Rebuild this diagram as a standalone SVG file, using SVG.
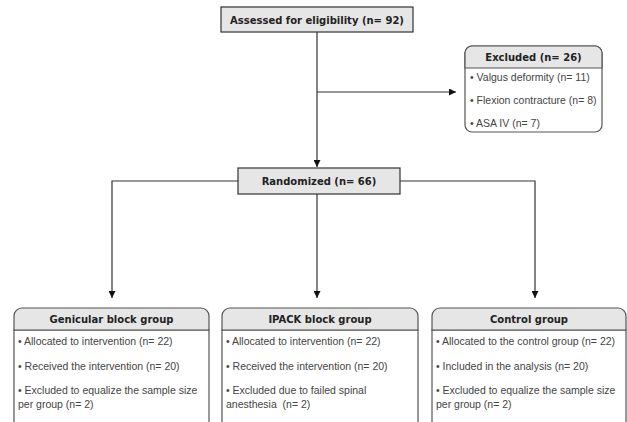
<svg xmlns="http://www.w3.org/2000/svg" width="627" height="422" viewBox="0 0 627 422">
<defs>
<style>
.box{fill:#e6e6e6;stroke:#333;stroke-width:1.2}
.hdr{fill:#e6e6e6;stroke:#555;stroke-width:1.2}
.body{fill:#fff;stroke:#555;stroke-width:1.2}
.t{font-family:"DejaVu Sans",Verdana,sans-serif;font-weight:bold;font-size:10px;fill:#222;text-anchor:middle}
.i{font-family:"Liberation Sans",Arial,sans-serif;font-size:10.5px;fill:#444;white-space:pre}
.c{fill:none;stroke:#333;stroke-width:1.2}
</style>
<marker id="ah" viewBox="0 0 10 10" refX="10" refY="5" markerWidth="7" markerHeight="7" markerUnits="userSpaceOnUse" orient="auto">
<path d="M0,0 L10,5 L0,10 Z" fill="#111"/>
</marker>
</defs>
<rect width="627" height="422" fill="#fff"/>
<g id="connectors">
<path class="c" d="M317,32 V167" marker-end="url(#ah)"/>
<path class="c" d="M317,92 H456" marker-end="url(#ah)"/>
<path class="c" d="M238,181 H112 V298" marker-end="url(#ah)"/>
<path class="c" d="M400,181 H535 V298" marker-end="url(#ah)"/>
<path class="c" d="M317,194 V298" marker-end="url(#ah)"/>
</g>
<g id="assessed">
<rect class="box" x="221" y="7" width="192" height="25"/>
<text class="t" x="317" y="23.5">Assessed for eligibility (n= 92)</text>
</g>
<g id="excluded">
<rect class="body" x="465" y="46" width="137" height="86" rx="7"/>
<path class="hdr" d="M465,68 V53 A7,7 0 0 1 472,46 H595 A7,7 0 0 1 602,53 V68 Z"/>
<text class="t" x="533.5" y="61">Excluded (n= 26)</text>
<text class="i" x="470" y="81">• Valgus deformity (n= 11)</text>
<text class="i" x="470" y="104">• Flexion contracture (n= 8)</text>
<text class="i" x="470" y="127">• ASA IV (n= 7)</text>
</g>
<g id="randomized">
<rect class="box" x="238" y="168" width="162" height="26"/>
<text class="t" x="319" y="185">Randomized (n= 66)</text>
</g>
<g id="genicular">
<rect class="body" x="14" y="330" width="195" height="110"/>
<path class="hdr" d="M14,330 V316 A8,8 0 0 1 22,308 H201 A8,8 0 0 1 209,316 V330 Z"/>
<text class="t" x="111.5" y="323">Genicular block group</text>
<text class="i" x="18" y="345">• Allocated to intervention (n= 22)</text>
<text class="i" x="18" y="370">• Received the intervention (n= 20)</text>
<text class="i" x="18" y="394">• Excluded to equalize the sample size</text>
<text class="i" x="18" y="408">per group (n= 2)</text>
</g>
<g id="ipack">
<rect class="body" x="222" y="330" width="196" height="110"/>
<path class="hdr" d="M222,330 V316 A8,8 0 0 1 230,308 H410 A8,8 0 0 1 418,316 V330 Z"/>
<text class="t" x="320" y="323">IPACK block group</text>
<text class="i" x="226" y="345">• Allocated to intervention (n= 22)</text>
<text class="i" x="226" y="370">• Received the intervention (n= 20)</text>
<text class="i" x="226" y="394">• Excluded due to failed spinal</text>
<text class="i" x="226" y="408">anesthesia  (n= 2)</text>
</g>
<g id="control">
<rect class="body" x="432" y="330" width="194" height="110"/>
<path class="hdr" d="M432,330 V316 A8,8 0 0 1 440,308 H618 A8,8 0 0 1 626,316 V330 Z"/>
<text class="t" x="529" y="323">Control group</text>
<text class="i" x="436" y="345">• Allocated to the control group (n= 22)</text>
<text class="i" x="436" y="370">• Included in the analysis (n= 20)</text>
<text class="i" x="436" y="394">• Excluded to equalize the sample size</text>
<text class="i" x="436" y="408">per group (n= 2)</text>
</g>
</svg>
